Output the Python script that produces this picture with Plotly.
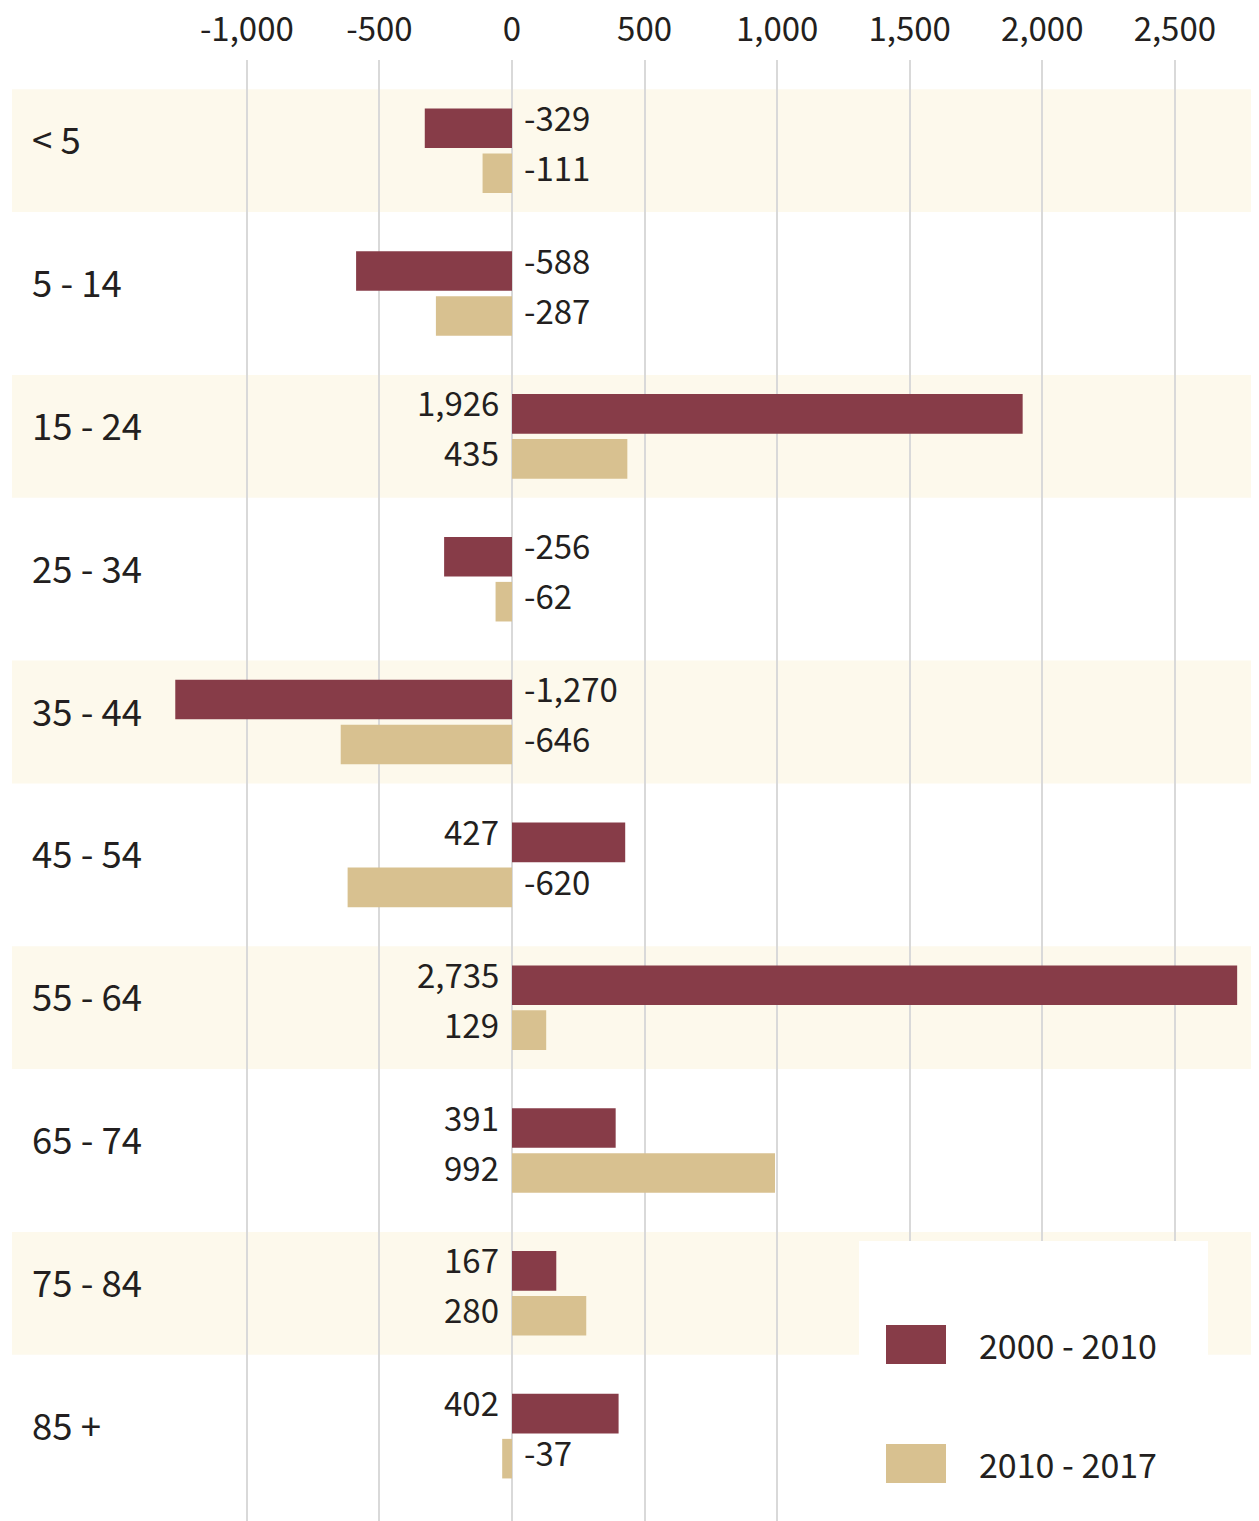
import plotly.graph_objects as go

categories = ["< 5", "5 - 14", "15 - 24", "25 - 34", "35 - 44",
              "45 - 54", "55 - 64", "65 - 74", "75 - 84", "85 +"]
series_names = ["2000 - 2010", "2010 - 2017"]
change_2000_2010 = [-329, -588, 1926, -256, -1270, 427, 2735, 391, 167, 402]
change_2010_2017 = [-111, -287, 435, -62, -646, -620, 129, 992, 280, -37]
tick_values = [-1000, -500, 0, 500, 1000, 1500, 2000, 2500]
tick_labels = ["-1,000", "-500", "0", "500", "1,000", "1,500", "2,000", "2,500"]

MAROON = "#873C48"
TAN = "#D8C190"
BAND = "#FDF9EC"
TEXT = "#231F20"
FONT = "Noto Sans CJK SC"

OFF = 8  # browser body margin
W, H = 1259 - OFF, 1521 - OFF
ML, MR, MT, MB = 12 - OFF, 3, 60 - OFF, 0
PW = W - ML - MR
PH = H - MT - MB

ypos = list(range(len(categories)))

fig = go.Figure()
for name, vals, col in [(series_names[0], change_2000_2010, MAROON),
                        (series_names[1], change_2010_2017, TAN)]:
    fig.add_trace(go.Bar(
        y=ypos, x=vals, name=name, orientation="h",
        marker=dict(color=col, line=dict(width=0)),
        showlegend=False, hoverinfo="x+name",
    ))

shapes = []
for i in ypos:
    if i % 2 == 0:
        shapes.append(dict(type="rect", xref="paper", yref="y",
                           x0=0, x1=1, y0=i - 0.43, y1=i + 0.43,
                           fillcolor=BAND, line=dict(width=0), layer="below"))

def px_x(p):
    return (p - OFF - ML) / PW

def px_y(p):
    return (H - MB - (p - OFF)) / PH

annotations = []
for i, c in zip(ypos, categories):
    annotations.append(dict(x=px_x(30), xref="paper", y=i, yref="y",
                            text=c, showarrow=False, xanchor="left",
                            yanchor="middle", yshift=12,
                            font=dict(family=FONT, size=36.5, color=TEXT)))
for off, vals in [(-0.175, change_2000_2010), (0.175, change_2010_2017)]:
    for i, v in zip(ypos, vals):
        neg = v < 0
        annotations.append(dict(x=0, y=i + off, xref="x", yref="y",
                                text=f"{v:,}", showarrow=False,
                                xanchor="left" if neg else "right",
                                xshift=10 if neg else -11, yshift=9,
                                yanchor="middle",
                                font=dict(family=FONT, size=33, color=TEXT)))

shapes.append(dict(type="rect", xref="paper", yref="paper",
                   x0=px_x(859), x1=px_x(1208), y0=px_y(1521), y1=px_y(1241),
                   fillcolor="white", line=dict(width=0), layer="above"))
for k, (name, col) in enumerate(zip(series_names, [MAROON, TAN])):
    top = 1325 + k * 119
    shapes.append(dict(type="rect", xref="paper", yref="paper",
                       x0=px_x(886), x1=px_x(946), y0=px_y(top + 39), y1=px_y(top),
                       fillcolor=col, line=dict(width=0), layer="above"))
    annotations.append(dict(x=px_x(977), y=px_y(top + 19), xref="paper", yref="paper",
                            text=name, showarrow=False, xanchor="left", yanchor="middle",
                            font=dict(family=FONT, size=34, color=TEXT)))

SCALE = 0.26514
ZERO = 512
xmin = (12 - ZERO) / SCALE
xmax = (1256 - ZERO) / SCALE

fig.update_layout(
    width=W, height=H,
    margin=dict(l=ML, r=MR, t=MT, b=MB, pad=0, autoexpand=False),
    paper_bgcolor="white", plot_bgcolor="white",
    barmode="group", bargap=0.37, bargroupgap=0.12,
    shapes=shapes, annotations=annotations,
    xaxis=dict(side="top", range=[xmin, xmax], tickvals=tick_values,
               ticktext=tick_labels, showgrid=True, gridcolor="#D9D9D9",
               gridwidth=2, zeroline=False, showline=False, ticks="",
               ticklabelstandoff=11, automargin=False,
               tickfont=dict(family=FONT, size=33, color=TEXT), fixedrange=True),
    yaxis=dict(range=[9.594, -0.635], showgrid=False, zeroline=False,
               showline=False, showticklabels=False, ticks="", fixedrange=True),
    font=dict(family=FONT, color=TEXT),
)

fig.write_html("out.html")
